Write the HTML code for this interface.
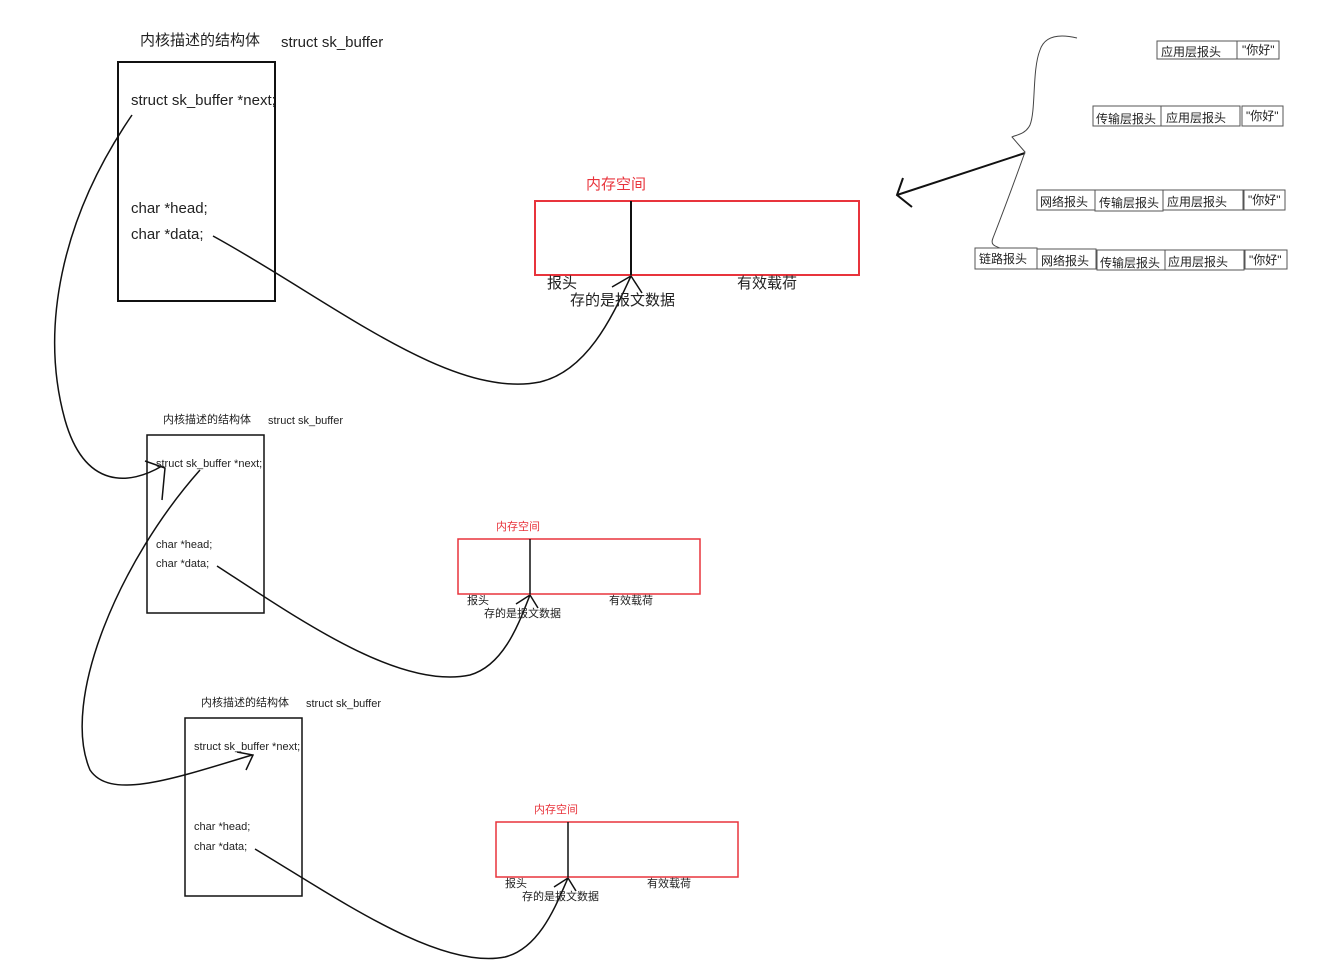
<!DOCTYPE html>
<html><head><meta charset="utf-8"><style>
html,body{margin:0;padding:0;background:#fff;width:1317px;height:965px;overflow:hidden}
svg{display:block}
text{font-family:"Liberation Sans","Noto Sans CJK SC",sans-serif;fill:#222}
</style></head><body>
<svg width="1317" height="965" viewBox="0 0 1317 965" xmlns="http://www.w3.org/2000/svg">
<g fill="none" stroke="#111" stroke-width="1.5">
<!-- block 1 -->
<rect x="118" y="62" width="157" height="239" stroke-width="2"/>
<rect x="535" y="201" width="324" height="74" stroke="#e8343c" stroke-width="2"/>
<line x1="631" y1="201" x2="631" y2="275" stroke-width="2"/>
<path d="M213,236 C330,300 450,400 540,382 C590,370 615,310 631,276"/>
<path d="M612,287 L631,276 L642,293"/>
<path d="M132,115 C60,220 40,330 65,420 C85,490 130,485 162,466"/>
<path d="M145,461 L165,468 L162,500"/>
<!-- block 2 -->
<rect x="147" y="435" width="117" height="178"/>
<rect x="458" y="539" width="242" height="55" stroke="#e8343c"/>
<line x1="530" y1="539" x2="530" y2="594"/>
<path d="M217,566 C300,620 400,690 470,675 C505,665 520,620 530,595"/>
<path d="M516,604 L530,595 L538,608"/>
<path d="M200,470 C120,560 60,700 90,770 C110,800 170,780 252,755"/>
<path d="M237,752 L253,755 L246,770"/>
<!-- block 3 -->
<rect x="185" y="718" width="117" height="178"/>
<rect x="496" y="822" width="242" height="55" stroke="#e8343c"/>
<line x1="568" y1="822" x2="568" y2="877"/>
<path d="M255,849 C340,900 440,970 505,957 C540,948 556,905 568,878"/>
<path d="M554,887 L568,878 L576,891"/>
<!-- right side -->
<path d="M1025,153 L897,195" stroke-width="2"/>
<path d="M903,178 L897,195 L912,207" stroke-width="2"/>
<path d="M1077,38 C1060,34 1045,35 1040,50 C1032,70 1036,110 1030,125 C1025,135 1015,135 1012,137 L1025,152 C1015,180 1000,220 993,238 C990,245 995,246 1000,248" stroke-width="1" stroke="#444"/>
</g>
<g fill="none" stroke="#555" stroke-width="1">
<rect x="1157" y="41" width="80" height="18"/><rect x="1237" y="41" width="42" height="18"/>
<rect x="1093" y="106" width="68" height="20"/><rect x="1161" y="106" width="79" height="20"/><rect x="1242" y="106" width="41" height="20"/>
<rect x="1037" y="190" width="58" height="20"/><rect x="1095" y="190" width="68" height="21"/><rect x="1163" y="190" width="80" height="20"/><rect x="1244" y="190" width="41" height="20"/>
<rect x="975" y="248" width="62" height="21"/><rect x="1037" y="249" width="59" height="20"/><rect x="1097" y="250" width="68" height="20"/><rect x="1165" y="250" width="79" height="20"/><rect x="1245" y="250" width="42" height="19"/>
</g>
<g font-size="12">
<text x="1161" y="56">应用层报头</text><text x="1242" y="54">"你好"</text>
<text x="1096" y="123">传输层报头</text><text x="1166" y="122">应用层报头</text><text x="1246" y="120">"你好"</text>
<text x="1040" y="206">网络报头</text><text x="1099" y="207">传输层报头</text><text x="1167" y="206">应用层报头</text><text x="1248" y="204">"你好"</text>
<text x="979" y="263">链路报头</text><text x="1041" y="265">网络报头</text><text x="1100" y="267">传输层报头</text><text x="1168" y="266">应用层报头</text><text x="1249" y="264">"你好"</text>
</g>
<!-- block 1 text -->
<g font-size="15">
<text x="140" y="45">内核描述的结构体</text><text x="281" y="47">struct sk_buffer</text>
<text x="131" y="105">struct sk_buffer *next;</text>
<text x="131" y="213">char *head;</text>
<text x="131" y="239">char *data;</text>
<text x="586" y="189" style="fill:#e8343c">内存空间</text>
<text x="547" y="288">报头</text>
<text x="737" y="288">有效载荷</text>
<text x="570" y="305">存的是报文数据</text>
</g>
<g font-size="11">
<text x="163" y="423">内核描述的结构体</text><text x="268" y="424">struct sk_buffer</text>
<text x="156" y="467">struct sk_buffer *next;</text>
<text x="156" y="548">char *head;</text>
<text x="156" y="567">char *data;</text>
<text x="496" y="530" style="fill:#e8343c">内存空间</text>
<text x="467" y="604">报头</text><text x="609" y="604">有效载荷</text><text x="484" y="617">存的是报文数据</text>
<text x="201" y="706">内核描述的结构体</text><text x="306" y="707">struct sk_buffer</text>
<text x="194" y="750">struct sk_buffer *next;</text>
<text x="194" y="830">char *head;</text>
<text x="194" y="850">char *data;</text>
<text x="534" y="813" style="fill:#e8343c">内存空间</text>
<text x="505" y="887">报头</text><text x="647" y="887">有效载荷</text><text x="522" y="900">存的是报文数据</text>
</g>
</svg>
</body></html>
